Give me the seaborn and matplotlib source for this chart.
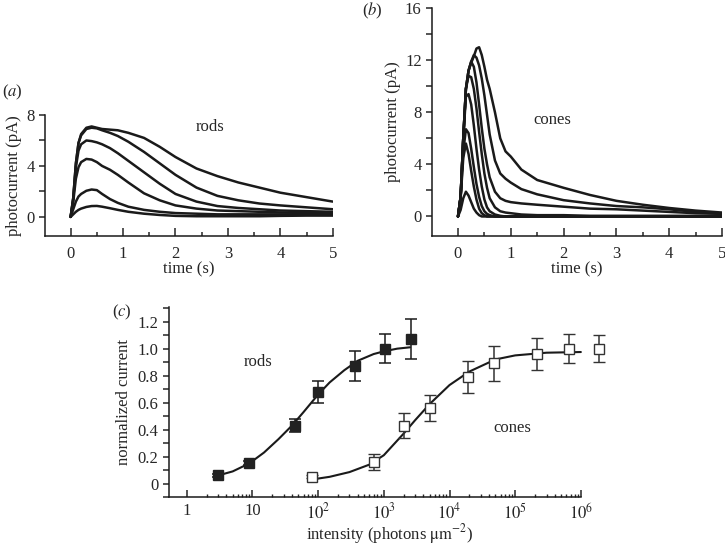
import numpy as np
import pandas as pd
import seaborn as sns
import matplotlib.pyplot as plt
from matplotlib.ticker import MultipleLocator, FixedLocator, FixedFormatter, NullFormatter

# time grids and traces
rod_t = [0, 0.05, 0.1, 0.15, 0.2, 0.3, 0.4, 0.5, 0.6, 0.75, 0.9, 1.1, 1.4, 1.7, 2.0, 2.4, 2.8, 3.2, 3.6, 4.0, 4.5, 5.0]
rod1 = [0, 1.5, 4.2, 5.8, 6.5, 7.0, 7.1, 7.0, 6.9, 6.85, 6.8, 6.6, 6.2, 5.5, 4.7, 3.8, 3.2, 2.7, 2.3, 1.9, 1.55, 1.2]
rod2 = [0, 1.5, 4.2, 5.8, 6.4, 6.9, 7.0, 6.95, 6.8, 6.6, 6.35, 5.9, 5.1, 4.2, 3.3, 2.3, 1.65, 1.3, 1.05, 0.9, 0.75, 0.6]
rod3 = [0, 1.4, 3.9, 5.2, 5.7, 6.0, 5.95, 5.85, 5.7, 5.4, 5.0, 4.4, 3.5, 2.6, 1.8, 1.2, 0.85, 0.7, 0.6, 0.5, 0.45, 0.4]
rod4 = [0, 1.2, 3.0, 3.9, 4.3, 4.55, 4.5, 4.3, 4.0, 3.7, 3.3, 2.7, 1.85, 1.3, 0.9, 0.65, 0.5, 0.45, 0.4, 0.35, 0.3, 0.3]
rod5 = [0, 0.6, 1.2, 1.6, 1.8, 2.05, 2.15, 2.1, 1.8, 1.4, 1.1, 0.8, 0.55, 0.4, 0.3, 0.25, 0.2, 0.2, 0.2, 0.2, 0.2, 0.2]
rod6 = [0, 0.2, 0.4, 0.55, 0.65, 0.78, 0.85, 0.86, 0.8, 0.68, 0.55, 0.4, 0.25, 0.15, 0.08, 0.05, 0.05, 0.05, 0.05, 0.08, 0.1, 0.1]

cone_t = [0, 0.05, 0.1, 0.15, 0.2, 0.25, 0.3, 0.35, 0.4, 0.45, 0.5, 0.55, 0.6, 0.7, 0.8, 0.9, 1.0, 1.2, 1.5, 2.0, 2.5, 3.0, 3.5, 4.0, 4.5, 5.0]
cone1 = [0, 1.5, 6.0, 9.8, 11.2, 11.8, 12.3, 12.9, 13.0, 12.4, 11.5, 10.5, 9.8, 8.0, 6.0, 5.0, 4.6, 3.6, 2.8, 2.2, 1.65, 1.2, 0.9, 0.65, 0.45, 0.3]
cone2 = [0, 1.5, 6.0, 9.8, 11.2, 11.9, 12.4, 12.2, 11.6, 10.6, 9.3, 7.8, 6.3, 4.3, 3.3, 2.9, 2.6, 2.1, 1.7, 1.25, 1.0, 0.8, 0.7, 0.55, 0.35, 0.2]
cone3 = [0, 1.5, 6.0, 9.8, 11.2, 11.9, 11.5, 10.3, 8.6, 6.8, 5.2, 4.0, 3.0, 1.9, 1.4, 1.2, 1.1, 1.0, 0.9, 0.75, 0.6, 0.55, 0.45, 0.35, 0.25, 0.2]
cone4 = [0, 1.5, 6.0, 9.8, 10.8, 10.7, 9.8, 8.3, 6.5, 4.8, 3.3, 2.2, 1.4, 0.7, 0.4, 0.3, 0.25, 0.15, 0.1, 0.1, 0.05, 0.05, 0.05, 0.05, 0.05, 0.05]
cone5 = [0, 1.5, 6.0, 9.2, 9.4, 8.6, 7.0, 5.2, 3.6, 2.3, 1.3, 0.7, 0.4, 0.15, 0.05, 0, 0, 0, 0, 0, 0, 0, 0, 0, 0, 0]
cone6 = [0, 1.5, 5.0, 6.7, 6.4, 5.2, 3.8, 2.5, 1.5, 0.8, 0.4, 0.2, 0.1, 0, 0, 0, 0, 0, 0, 0, 0, 0, 0, 0, 0, 0]
cone7 = [0, 1.4, 4.5, 5.6, 4.8, 3.5, 2.3, 1.3, 0.6, 0.25, 0.1, 0, 0, 0, 0, 0, 0, 0, 0, 0, 0, 0, 0, 0, 0, 0]
cone8 = [0, 0.5, 1.4, 1.9, 1.6, 1.1, 0.6, 0.3, 0.1, 0, 0, 0, 0, 0, 0, 0, 0, 0, 0, 0, 0, 0, 0, 0, 0, 0]

# intensity-response data
rod_I = [3, 9, 45, 100, 360, 1050, 2600]
rod_R = [0.06, 0.15, 0.43, 0.68, 0.87, 1.0, 1.07]
rod_err = [0.01, 0.015, 0.05, 0.08, 0.11, 0.11, 0.15]
cone_I = [80, 700, 2000, 5100, 19000, 47000, 215000, 660000, 1.9e6]
cone_R = [0.05, 0.16, 0.43, 0.56, 0.79, 0.89, 0.96, 1.0, 1.0]
cone_err = [0.01, 0.06, 0.09, 0.10, 0.12, 0.13, 0.12, 0.11, 0.10]

# fitted curves (points read along the drawn fit)
rod_fit_I = [3, 5, 9, 15, 25, 40, 60, 100, 150, 250, 400, 700, 1000, 1600, 2500]
rod_fit_R = [0.06, 0.09, 0.15, 0.23, 0.33, 0.43, 0.53, 0.66, 0.75, 0.84, 0.91, 0.96, 0.98, 1.0, 1.01]
cone_fit_I = [80, 150, 300, 600, 1000, 2000, 3000, 5000, 10000, 20000, 50000, 1e5, 3e5, 1e6]
cone_fit_R = [0.03, 0.05, 0.085, 0.14, 0.21, 0.37, 0.47, 0.59, 0.73, 0.83, 0.92, 0.95, 0.97, 0.975]

sns.set_theme(style='ticks')
plt.rcParams['font.family'] = ['Liberation Serif', 'DejaVu Serif']
plt.rcParams['mathtext.fontset'] = 'stix'
FS = 12
INK = '#1a1a1a'

fig = plt.figure(figsize=(7.25, 5.45), dpi=100)
ax_a = fig.add_axes([0.062, 0.567, 0.397, 0.222])
ax_b = fig.add_axes([0.596, 0.567, 0.400, 0.418])
ax_c = fig.add_axes([0.233, 0.088, 0.608, 0.349])


def long_df(t, traces):
    rows = []
    for i, v in enumerate(traces):
        rows.append(pd.DataFrame({'t': t, 'v': v, 'trace': i}))
    return pd.concat(rows)


df_rod = long_df(rod_t, [rod1, rod2, rod3, rod4, rod5, rod6])
df_cone = long_df(cone_t, [cone1, cone2, cone3, cone4, cone5, cone6, cone7, cone8])

sns.lineplot(data=df_rod, x='t', y='v', hue='trace', units='trace', estimator=None,
             palette=[INK] * 6, legend=False, linewidth=1.8, ax=ax_a)
sns.lineplot(data=df_cone, x='t', y='v', hue='trace', units='trace', estimator=None,
             palette=[INK] * 8, legend=False, linewidth=1.8, ax=ax_b)


def style_trace_axes(ax, ymax, ystep):
    ax.set_xlim(-0.49, 5.0)
    ax.set_ylim(-1.5, ymax)
    sns.despine(ax=ax)
    ax.xaxis.set_major_locator(MultipleLocator(1))
    ax.xaxis.set_minor_locator(MultipleLocator(0.5))
    ax.yaxis.set_major_locator(MultipleLocator(ystep))
    ax.yaxis.set_minor_locator(MultipleLocator(ystep / 2))
    ax.tick_params(axis='x', which='major', direction='in', length=6, width=1.1, labelsize=FS, pad=7)
    ax.tick_params(axis='x', which='minor', direction='in', length=3, width=1.1)
    ax.tick_params(axis='y', which='both', direction='out', length=4, width=1.1, labelsize=FS)
    ax.set_xlabel('time (s)', fontsize=FS, labelpad=0)
    ax.set_ylabel('photocurrent (pA)', fontsize=FS, labelpad=3)
    for s in ax.spines.values():
        s.set_linewidth(1.1)
        s.set_color(INK)


style_trace_axes(ax_a, 8, 4)
style_trace_axes(ax_b, 16, 4)
ax_a.text(2.66, 7.06, 'rods', ha='center', va='center', fontsize=FS)
ax_b.text(1.78, 7.4, 'cones', ha='center', va='center', fontsize=FS)

# panel c
ax_c.set_xscale('log')
sns.lineplot(x=rod_fit_I, y=rod_fit_R, color=INK, linewidth=1.5, ax=ax_c, sort=False)
sns.lineplot(x=cone_fit_I, y=cone_fit_R, color=INK, linewidth=1.5, ax=ax_c, sort=False)
ax_c.errorbar(rod_I, rod_R, yerr=rod_err, fmt='s', color=INK, mfc='#222222', mec='#222222',
              ms=7, capsize=4, elinewidth=1.1, capthick=1.1, clip_on=False, zorder=3)
ax_c.errorbar(cone_I, cone_R, yerr=cone_err, fmt='s', color='#333333', mfc='white', mec='#333333',
              ms=7, mew=1.0, capsize=4, elinewidth=1.1, capthick=1.1, clip_on=False, zorder=3)
ax_c.set_xlim(0.535, 2.75e6)
ax_c.set_ylim(-0.1, 1.31)
sns.despine(ax=ax_c)
ax_c.spines['bottom'].set_bounds(0.535, 1e6)
for s in ax_c.spines.values():
    s.set_linewidth(1.1)
    s.set_color(INK)
decades = [1, 10, 1e2, 1e3, 1e4, 1e5, 1e6]
ax_c.xaxis.set_major_locator(FixedLocator(decades))
ax_c.xaxis.set_major_formatter(FixedFormatter(['1', '10', r'$10^2$', r'$10^3$', r'$10^4$', r'$10^5$', r'$10^6$']))
ax_c.xaxis.set_minor_locator(FixedLocator([d * k for d in decades[:-1] for k in range(2, 10)]))
ax_c.xaxis.set_minor_formatter(NullFormatter())
ax_c.yaxis.set_major_locator(MultipleLocator(0.2))
ax_c.yaxis.set_minor_locator(MultipleLocator(0.1))
ax_c.yaxis.set_major_formatter(plt.FuncFormatter(lambda v, p: '0' if abs(v) < 1e-9 else f'{v:.1f}'))
ax_c.tick_params(axis='x', which='major', direction='in', length=5, width=1.1, labelsize=FS, pad=4)
ax_c.tick_params(axis='x', which='minor', direction='in', length=2.5, width=1.0)
ax_c.tick_params(axis='y', which='both', direction='out', length=4, width=1.1, labelsize=FS)
ax_c.set_xlabel(r'intensity (photons $\mathrm{\mu m^{-2}}$)', fontsize=FS, labelpad=-0.5)
ax_c.set_ylabel('normalized current', fontsize=FS, labelpad=4)
ax_c.text(12, 0.9, 'rods', ha='center', va='center', fontsize=FS)
ax_c.text(9.1e4, 0.415, 'cones', ha='center', va='center', fontsize=FS)

fig.text(0.003, 0.831, r'($\mathit{a}$)', fontsize=FS, va='center')
fig.text(0.499, 0.98, r'($\mathit{b}$)', fontsize=FS, va='center')
fig.text(0.155, 0.426, r'($\mathit{c}$)', fontsize=FS, va='center')

plt.savefig('out.png', dpi=100)
